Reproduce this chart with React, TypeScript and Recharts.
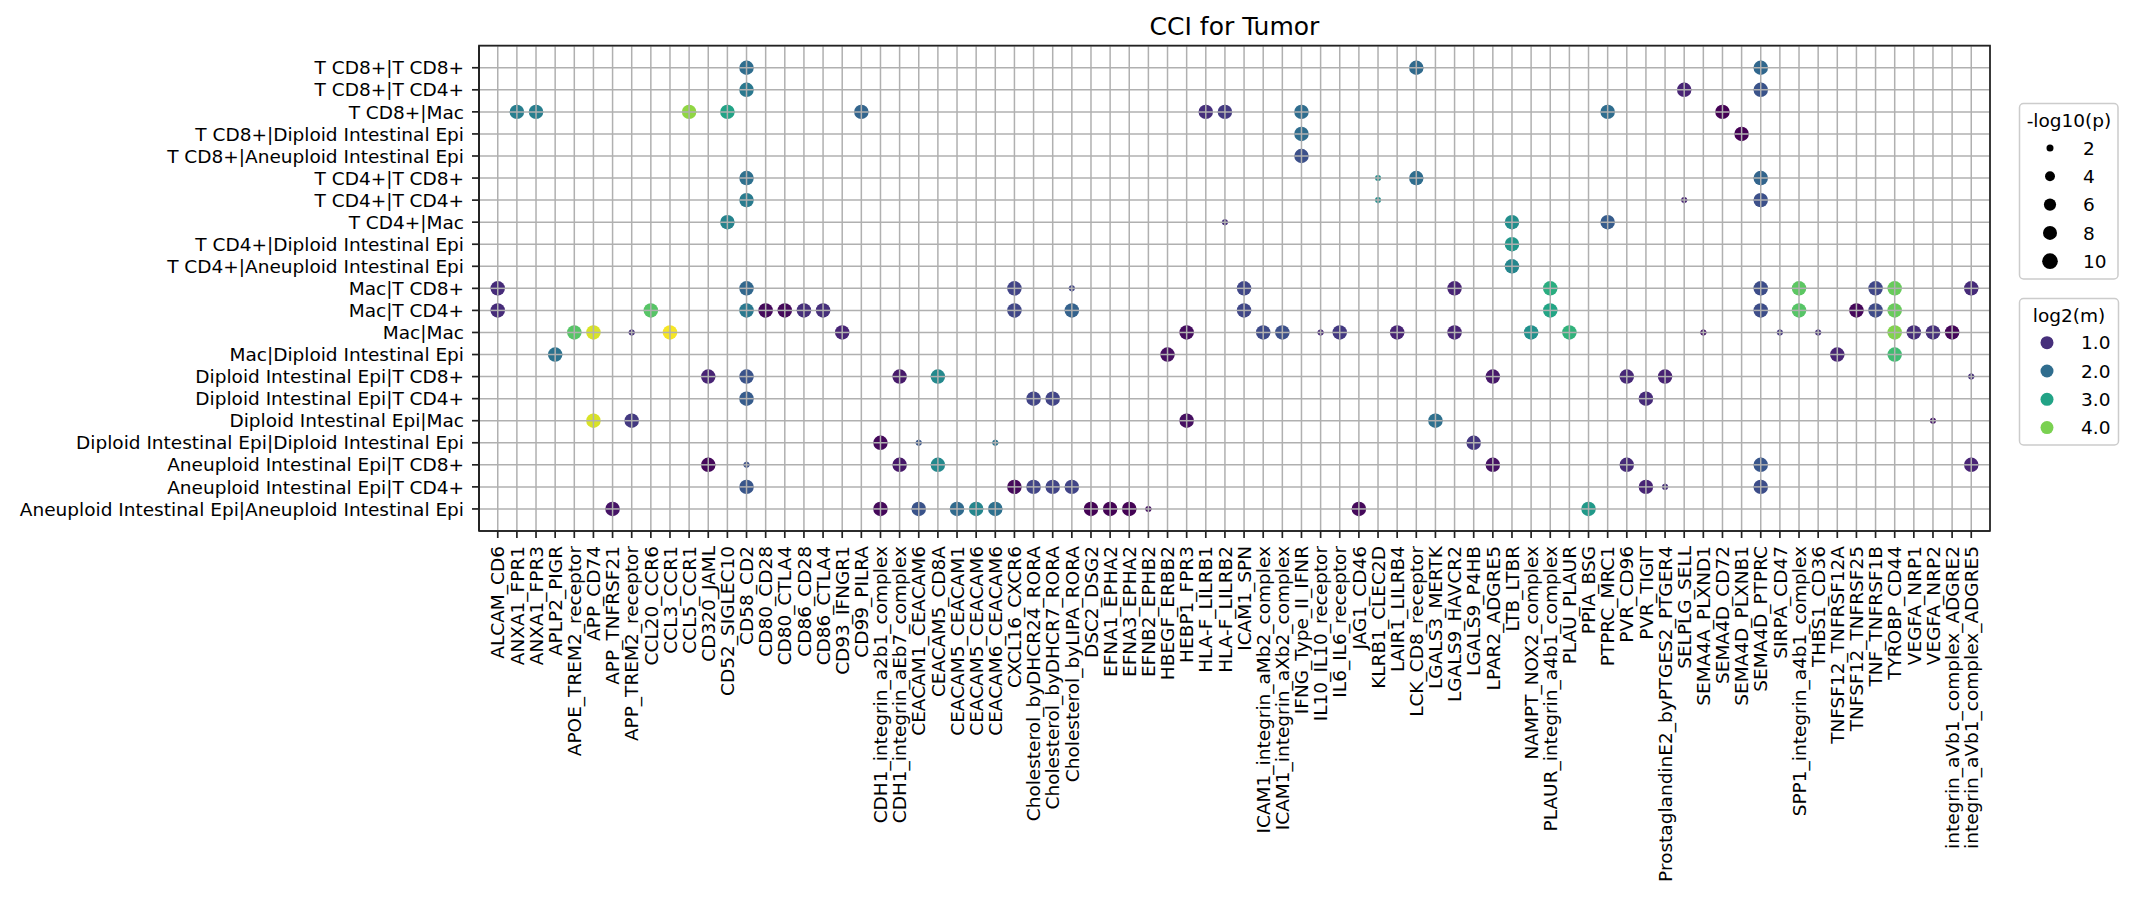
import React from "react";
import {
  ScatterChart, Scatter, XAxis, YAxis, CartesianGrid, ReferenceArea,
} from "recharts";

const FONT = "DejaVu Sans, Verdana, sans-serif";

// y categories (sender|receiver), top to bottom
const CELL_PAIRS = [
  "T CD8+|T CD8+",
  "T CD8+|T CD4+",
  "T CD8+|Mac",
  "T CD8+|Diploid Intestinal Epi",
  "T CD8+|Aneuploid Intestinal Epi",
  "T CD4+|T CD8+",
  "T CD4+|T CD4+",
  "T CD4+|Mac",
  "T CD4+|Diploid Intestinal Epi",
  "T CD4+|Aneuploid Intestinal Epi",
  "Mac|T CD8+",
  "Mac|T CD4+",
  "Mac|Mac",
  "Mac|Diploid Intestinal Epi",
  "Diploid Intestinal Epi|T CD8+",
  "Diploid Intestinal Epi|T CD4+",
  "Diploid Intestinal Epi|Mac",
  "Diploid Intestinal Epi|Diploid Intestinal Epi",
  "Aneuploid Intestinal Epi|T CD8+",
  "Aneuploid Intestinal Epi|T CD4+",
  "Aneuploid Intestinal Epi|Aneuploid Intestinal Epi",
];

// x categories (ligand_receptor)
const LR_PAIRS = [
  "ALCAM_CD6", "ANXA1_FPR1", "ANXA1_FPR3", "APLP2_PIGR", "APOE_TREM2_receptor",
  "APP_CD74", "APP_TNFRSF21", "APP_TREM2_receptor", "CCL20_CCR6", "CCL3_CCR1",
  "CCL5_CCR1", "CD320_JAML", "CD52_SIGLEC10", "CD58_CD2", "CD80_CD28",
  "CD80_CTLA4", "CD86_CD28", "CD86_CTLA4", "CD93_IFNGR1", "CD99_PILRA",
  "CDH1_integrin_a2b1_complex", "CDH1_integrin_aEb7_complex", "CEACAM1_CEACAM6", "CEACAM5_CD8A", "CEACAM5_CEACAM1",
  "CEACAM5_CEACAM6", "CEACAM6_CEACAM6", "CXCL16_CXCR6", "Cholesterol_byDHCR24_RORA", "Cholesterol_byDHCR7_RORA",
  "Cholesterol_byLIPA_RORA", "DSC2_DSG2", "EFNA1_EPHA2", "EFNA3_EPHA2", "EFNB2_EPHB2",
  "HBEGF_ERBB2", "HEBP1_FPR3", "HLA-F_LILRB1", "HLA-F_LILRB2", "ICAM1_SPN",
  "ICAM1_integrin_aMb2_complex", "ICAM1_integrin_aXb2_complex", "IFNG_Type_II_IFNR", "IL10_IL10_receptor", "IL6_IL6_receptor",
  "JAG1_CD46", "KLRB1_CLEC2D", "LAIR1_LILRB4", "LCK_CD8_receptor", "LGALS3_MERTK",
  "LGALS9_HAVCR2", "LGALS9_P4HB", "LPAR2_ADGRE5", "LTB_LTBR", "NAMPT_NOX2_complex",
  "PLAUR_integrin_a4b1_complex", "PLAU_PLAUR", "PPIA_BSG", "PTPRC_MRC1", "PVR_CD96",
  "PVR_TIGIT", "ProstaglandinE2_byPTGES2_PTGER4", "SELPLG_SELL", "SEMA4A_PLXND1", "SEMA4D_CD72",
  "SEMA4D_PLXNB1", "SEMA4D_PTPRC", "SIRPA_CD47", "SPP1_integrin_a4b1_complex", "THBS1_CD36",
  "TNFSF12_TNFRSF12A", "TNFSF12_TNFRSF25", "TNF_TNFRSF1B", "TYROBP_CD44", "VEGFA_NRP1",
  "VEGFA_NRP2", "integrin_aVb1_complex_ADGRE2", "integrin_aVb1_complex_ADGRE5",
];

// [receiver, ligand_receptor, log2(m), -log10(p)] per sender
const FROM_T_CD8: [string, string, number, number][] = [
  ["T CD8+", "CD58_CD2", 2.0, 8.5],
  ["T CD8+", "LCK_CD8_receptor", 1.95, 8.5],
  ["T CD8+", "SEMA4D_PTPRC", 1.9, 8.5],
  ["T CD4+", "CD58_CD2", 2.2, 8.5],
  ["T CD4+", "SELPLG_SELL", 0.85, 8.5],
  ["T CD4+", "SEMA4D_PTPRC", 1.55, 8.5],
  ["Mac", "ANXA1_FPR1", 2.3, 8.5],
  ["Mac", "ANXA1_FPR3", 2.3, 8.5],
  ["Mac", "CCL5_CCR1", 4.15, 8.5],
  ["Mac", "CD52_SIGLEC10", 3.0, 8.5],
  ["Mac", "CD99_PILRA", 1.85, 8.5],
  ["Mac", "HLA-F_LILRB1", 1.0, 8.5],
  ["Mac", "HLA-F_LILRB2", 1.15, 8.5],
  ["Mac", "IFNG_Type_II_IFNR", 2.0, 8.5],
  ["Mac", "PTPRC_MRC1", 2.0, 8.5],
  ["Mac", "SEMA4D_CD72", 0.4, 8.5],
  ["Diploid Intestinal Epi", "IFNG_Type_II_IFNR", 2.0, 8.5],
  ["Diploid Intestinal Epi", "SEMA4D_PLXNB1", 0.4, 8.5],
  ["Aneuploid Intestinal Epi", "IFNG_Type_II_IFNR", 1.5, 8.5],
];

const FROM_T_CD4: [string, string, number, number][] = [
  ["T CD8+", "CD58_CD2", 2.05, 8.5],
  ["T CD8+", "KLRB1_CLEC2D", 2.6, 1.5],
  ["T CD8+", "LCK_CD8_receptor", 2.0, 8.5],
  ["T CD8+", "SEMA4D_PTPRC", 1.85, 8.5],
  ["T CD4+", "CD58_CD2", 2.25, 8.5],
  ["T CD4+", "KLRB1_CLEC2D", 2.6, 1.5],
  ["T CD4+", "SELPLG_SELL", 0.85, 1.5],
  ["T CD4+", "SEMA4D_PTPRC", 1.5, 8.5],
  ["Mac", "CD52_SIGLEC10", 2.4, 8.5],
  ["Mac", "HLA-F_LILRB2", 1.0, 1.5],
  ["Mac", "LTB_LTBR", 2.6, 8.5],
  ["Mac", "PTPRC_MRC1", 1.7, 8.5],
  ["Diploid Intestinal Epi", "LTB_LTBR", 2.75, 8.5],
  ["Aneuploid Intestinal Epi", "LTB_LTBR", 2.45, 8.5],
];

const FROM_MAC: [string, string, number, number][] = [
  ["T CD8+", "ALCAM_CD6", 0.95, 8.5],
  ["T CD8+", "CD58_CD2", 1.9, 8.5],
  ["T CD8+", "CXCL16_CXCR6", 1.3, 8.5],
  ["T CD8+", "Cholesterol_byLIPA_RORA", 1.3, 1.5],
  ["T CD8+", "ICAM1_SPN", 1.35, 8.5],
  ["T CD8+", "LGALS9_HAVCR2", 0.85, 8.5],
  ["T CD8+", "PLAUR_integrin_a4b1_complex", 3.2, 8.5],
  ["T CD8+", "SEMA4D_PTPRC", 1.45, 8.5],
  ["T CD8+", "SPP1_integrin_a4b1_complex", 3.75, 8.5],
  ["T CD8+", "TNF_TNFRSF1B", 1.35, 8.5],
  ["T CD8+", "TYROBP_CD44", 3.85, 8.5],
  ["T CD8+", "integrin_aVb1_complex_ADGRE5", 0.95, 8.5],
  ["T CD4+", "ALCAM_CD6", 0.95, 8.5],
  ["T CD4+", "CCL20_CCR6", 3.7, 8.5],
  ["T CD4+", "CD58_CD2", 2.2, 8.5],
  ["T CD4+", "CD80_CD28", 0.5, 8.5],
  ["T CD4+", "CD80_CTLA4", 0.5, 8.5],
  ["T CD4+", "CD86_CD28", 1.0, 8.5],
  ["T CD4+", "CD86_CTLA4", 1.0, 8.5],
  ["T CD4+", "CXCL16_CXCR6", 1.35, 8.5],
  ["T CD4+", "Cholesterol_byLIPA_RORA", 1.8, 8.5],
  ["T CD4+", "ICAM1_SPN", 1.35, 8.5],
  ["T CD4+", "PLAUR_integrin_a4b1_complex", 3.05, 8.5],
  ["T CD4+", "SEMA4D_PTPRC", 1.45, 8.5],
  ["T CD4+", "SPP1_integrin_a4b1_complex", 3.7, 8.5],
  ["T CD4+", "TNFSF12_TNFRSF25", 0.48, 8.5],
  ["T CD4+", "TNF_TNFRSF1B", 1.4, 8.5],
  ["T CD4+", "TYROBP_CD44", 3.85, 8.5],
  ["Mac", "APOE_TREM2_receptor", 3.7, 8.5],
  ["Mac", "APP_CD74", 4.65, 8.5],
  ["Mac", "APP_TREM2_receptor", 1.0, 1.5],
  ["Mac", "CCL3_CCR1", 4.85, 8.5],
  ["Mac", "CD93_IFNGR1", 0.85, 8.5],
  ["Mac", "HEBP1_FPR3", 0.55, 8.5],
  ["Mac", "ICAM1_integrin_aMb2_complex", 1.4, 8.5],
  ["Mac", "ICAM1_integrin_aXb2_complex", 1.5, 8.5],
  ["Mac", "IL10_IL10_receptor", 0.9, 1.5],
  ["Mac", "IL6_IL6_receptor", 1.15, 8.5],
  ["Mac", "LAIR1_LILRB4", 0.85, 8.5],
  ["Mac", "LGALS9_HAVCR2", 0.85, 8.5],
  ["Mac", "NAMPT_NOX2_complex", 2.65, 8.5],
  ["Mac", "PLAU_PLAUR", 3.3, 8.5],
  ["Mac", "SEMA4A_PLXND1", 0.7, 1.5],
  ["Mac", "SIRPA_CD47", 1.1, 1.5],
  ["Mac", "THBS1_CD36", 1.0, 1.5],
  ["Mac", "TYROBP_CD44", 4.05, 8.5],
  ["Mac", "VEGFA_NRP1", 0.98, 8.5],
  ["Mac", "VEGFA_NRP2", 1.0, 8.5],
  ["Mac", "integrin_aVb1_complex_ADGRE2", 0.45, 8.5],
  ["Diploid Intestinal Epi", "APLP2_PIGR", 2.1, 8.5],
  ["Diploid Intestinal Epi", "HBEGF_ERBB2", 0.58, 8.5],
  ["Diploid Intestinal Epi", "TNFSF12_TNFRSF12A", 0.85, 8.5],
  ["Diploid Intestinal Epi", "TYROBP_CD44", 3.5, 8.5],
];

const FROM_DIPLOID: [string, string, number, number][] = [
  ["T CD8+", "CD320_JAML", 0.85, 8.5],
  ["T CD8+", "CD58_CD2", 1.55, 8.5],
  ["T CD8+", "CDH1_integrin_aEb7_complex", 0.72, 8.5],
  ["T CD8+", "CEACAM5_CD8A", 2.5, 8.5],
  ["T CD8+", "LPAR2_ADGRE5", 0.7, 8.5],
  ["T CD8+", "PVR_CD96", 0.9, 8.5],
  ["T CD8+", "ProstaglandinE2_byPTGES2_PTGER4", 0.82, 8.5],
  ["T CD8+", "integrin_aVb1_complex_ADGRE5", 1.0, 1.5],
  ["T CD4+", "CD58_CD2", 1.7, 8.5],
  ["T CD4+", "Cholesterol_byDHCR24_RORA", 1.3, 8.5],
  ["T CD4+", "Cholesterol_byDHCR7_RORA", 1.3, 8.5],
  ["T CD4+", "PVR_TIGIT", 0.95, 8.5],
  ["Mac", "APP_CD74", 4.65, 8.5],
  ["Mac", "APP_TREM2_receptor", 1.15, 8.5],
  ["Mac", "HEBP1_FPR3", 0.58, 8.5],
  ["Mac", "LGALS3_MERTK", 2.05, 8.5],
  ["Mac", "VEGFA_NRP2", 0.7, 1.5],
  ["Diploid Intestinal Epi", "CDH1_integrin_a2b1_complex", 0.5, 8.5],
  ["Diploid Intestinal Epi", "CEACAM1_CEACAM6", 1.6, 1.5],
  ["Diploid Intestinal Epi", "CEACAM6_CEACAM6", 2.1, 1.5],
  ["Diploid Intestinal Epi", "LGALS9_P4HB", 1.1, 8.5],
];

const FROM_ANEUPLOID: [string, string, number, number][] = [
  ["T CD8+", "CD320_JAML", 0.5, 8.5],
  ["T CD8+", "CD58_CD2", 1.5, 1.5],
  ["T CD8+", "CDH1_integrin_aEb7_complex", 0.68, 8.5],
  ["T CD8+", "CEACAM5_CD8A", 2.5, 8.5],
  ["T CD8+", "LPAR2_ADGRE5", 0.62, 8.5],
  ["T CD8+", "PVR_CD96", 0.95, 8.5],
  ["T CD8+", "SEMA4D_PTPRC", 1.6, 8.5],
  ["T CD8+", "integrin_aVb1_complex_ADGRE5", 0.85, 8.5],
  ["T CD4+", "CD58_CD2", 1.6, 8.5],
  ["T CD4+", "CXCL16_CXCR6", 0.5, 8.5],
  ["T CD4+", "Cholesterol_byDHCR24_RORA", 1.3, 8.5],
  ["T CD4+", "Cholesterol_byDHCR7_RORA", 1.3, 8.5],
  ["T CD4+", "Cholesterol_byLIPA_RORA", 1.3, 8.5],
  ["T CD4+", "PVR_TIGIT", 0.85, 8.5],
  ["T CD4+", "ProstaglandinE2_byPTGES2_PTGER4", 1.0, 1.5],
  ["T CD4+", "SEMA4D_PTPRC", 1.45, 8.5],
  ["Aneuploid Intestinal Epi", "APP_TNFRSF21", 0.65, 8.5],
  ["Aneuploid Intestinal Epi", "CDH1_integrin_a2b1_complex", 0.5, 8.5],
  ["Aneuploid Intestinal Epi", "CEACAM1_CEACAM6", 1.55, 8.5],
  ["Aneuploid Intestinal Epi", "CEACAM5_CEACAM1", 1.95, 8.5],
  ["Aneuploid Intestinal Epi", "CEACAM5_CEACAM6", 2.45, 8.5],
  ["Aneuploid Intestinal Epi", "CEACAM6_CEACAM6", 2.05, 8.5],
  ["Aneuploid Intestinal Epi", "DSC2_DSG2", 0.42, 8.5],
  ["Aneuploid Intestinal Epi", "EFNA1_EPHA2", 0.42, 8.5],
  ["Aneuploid Intestinal Epi", "EFNA3_EPHA2", 0.42, 8.5],
  ["Aneuploid Intestinal Epi", "EFNB2_EPHB2", 0.6, 1.5],
  ["Aneuploid Intestinal Epi", "JAG1_CD46", 0.5, 8.5],
  ["Aneuploid Intestinal Epi", "PPIA_BSG", 2.8, 8.5],
];

const SIZE_LEGEND = [2, 4, 6, 8, 10];
const COLOR_LEGEND = [1.0, 2.0, 3.0, 4.0];

// colour scale
const VIRIDIS = [
  "#440154", "#482475", "#414487", "#355f8d", "#2a788e", "#21918c",
  "#22a884", "#44bf70", "#7ad151", "#bddf26", "#fde725",
];
const V_MIN = 0.4;
const V_MAX = 4.9;

function hexToRgb(h: string) {
  return [1, 3, 5].map((i) => parseInt(h.slice(i, i + 2), 16));
}

function viridis(v: number) {
  let t = (v - V_MIN) / (V_MAX - V_MIN);
  t = Math.max(0, Math.min(1, t));
  const p = t * (VIRIDIS.length - 1);
  const i = Math.min(Math.floor(p), VIRIDIS.length - 2);
  const f = p - i;
  const a = hexToRgb(VIRIDIS[i]);
  const b = hexToRgb(VIRIDIS[i + 1]);
  const c = a.map((x, k) => Math.round(x + (b[k] - x) * f));
  return `rgb(${c[0]},${c[1]},${c[2]})`;
}

const radius = (nlp: number) => 2.48 * Math.sqrt(nlp);

const SENDERS: [string, [string, string, number, number][]][] = [
  ["T CD8+", FROM_T_CD8],
  ["T CD4+", FROM_T_CD4],
  ["Mac", FROM_MAC],
  ["Diploid Intestinal Epi", FROM_DIPLOID],
  ["Aneuploid Intestinal Epi", FROM_ANEUPLOID],
];

const points = SENDERS.flatMap(([sender, rows]) =>
  rows.map(([receiver, lr, m, p]) => ({
    x: LR_PAIRS.indexOf(lr),
    y: CELL_PAIRS.indexOf(`${sender}|${receiver}`),
    m,
    p,
  }))
);

const GRID = "#b0b0b0";
const SPINE = "#222";

function Dot(props: any) {
  const { cx, cy, payload } = props;
  if (cx == null || cy == null) return null;
  const r = radius(payload.p);
  return (
    <g>
      <circle cx={cx} cy={cy} r={r} fill={viridis(payload.m)} />
      <line x1={cx - r} x2={cx + r} y1={cy} y2={cy} stroke={GRID} strokeWidth={1.5} />
      <line x1={cx} x2={cx} y1={cy - r} y2={cy + r} stroke={GRID} strokeWidth={1.5} />
    </g>
  );
}

function XTick(props: any) {
  const { x, y, payload } = props;
  return (
    <g transform={`translate(${x},${y})`}>
      <text transform="rotate(-90)" textAnchor="end" dy="0.36em"
        fontSize={18.5} fontFamily={FONT} fill="#000">
        {LR_PAIRS[payload.value]}
      </text>
    </g>
  );
}

function YTick(props: any) {
  const { x, y, payload } = props;
  return (
    <text x={x} y={y} dy="0.36em" textAnchor="end" fontSize={18.5} fontFamily={FONT} fill="#000">
      {CELL_PAIRS[payload.value]}
    </text>
  );
}

export default function App() {
  return (
    <div style={{ position: "absolute", left: 0, top: 0, width: 2134, height: 902, background: "#fff" }}>
      <ScatterChart width={2134} height={902} margin={{ top: 45.7, right: 144, bottom: 11, left: 9 }}>
        <CartesianGrid stroke={GRID} strokeWidth={1.5} />
        <XAxis type="number" dataKey="x" domain={[-0.98, 77.98]} allowDataOverflow
          ticks={LR_PAIRS.map((_, i) => i)} interval={0} height={360}
          tickSize={7} tickMargin={8} tick={(p: any) => <XTick {...p} />}
          axisLine={{ stroke: SPINE, strokeWidth: 1.7 }} tickLine={{ stroke: SPINE, strokeWidth: 1.7 }} />
        <YAxis type="number" dataKey="y" domain={[-1, 21]} reversed allowDataOverflow
          ticks={CELL_PAIRS.map((_, i) => i)} interval={0} width={470}
          tickSize={7} tickMargin={8} tick={(p: any) => <YTick {...p} />}
          axisLine={{ stroke: SPINE, strokeWidth: 1.7 }} tickLine={{ stroke: SPINE, strokeWidth: 1.7 }} />
        <Scatter data={points} isAnimationActive={false} shape={(p: any) => <Dot {...p} />} />
        <ReferenceArea x1={-0.98} x2={77.98} y1={-1} y2={21} fill="none" fillOpacity={0}
          stroke={SPINE} strokeWidth={1.7} ifOverflow="visible" />
      </ScatterChart>

      <svg width={2134} height={902} style={{ position: "absolute", left: 0, top: 0, pointerEvents: "none" }}>
        <text x={1234.5} y={35} textAnchor="middle" fontSize={25} fontFamily={FONT} fill="#000">
          CCI for Tumor
        </text>

        {/* size legend */}
        <rect x={2019.5} y={103.5} width={98.5} height={175.5} rx={4} fill="#fff" stroke="#cccccc" strokeWidth={1.5} />
        <text x={2069} y={120} dy="0.36em" textAnchor="middle" fontSize={18.5} fontFamily={FONT}>-log10(p)</text>
        {SIZE_LEGEND.map((v, i) => (
          <g key={v}>
            <circle cx={2050} cy={148 + i * 28.3} r={radius(v)} fill="#000" />
            <text x={2083} y={148 + i * 28.3} dy="0.36em" fontSize={18.5} fontFamily={FONT}>{v}</text>
          </g>
        ))}

        {/* colour legend */}
        <rect x={2019.5} y={298.5} width={99} height={146.5} rx={4} fill="#fff" stroke="#cccccc" strokeWidth={1.5} />
        <text x={2069} y={315} dy="0.36em" textAnchor="middle" fontSize={18.5} fontFamily={FONT}>log2(m)</text>
        {COLOR_LEGEND.map((v, i) => (
          <g key={v}>
            <circle cx={2047} cy={342.7 + i * 28.3} r={6.5} fill={viridis(v)} />
            <text x={2081} y={342.7 + i * 28.3} dy="0.36em" fontSize={18.5} fontFamily={FONT}>{v.toFixed(1)}</text>
          </g>
        ))}
      </svg>
    </div>
  );
}
